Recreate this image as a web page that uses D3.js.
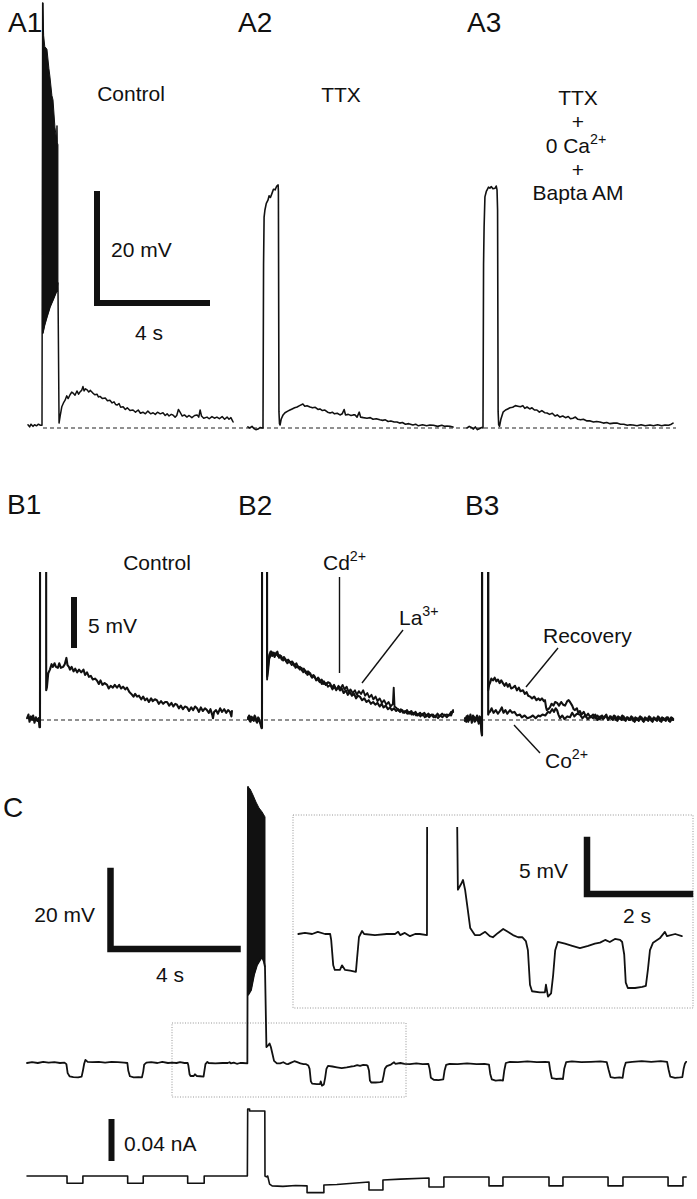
<!DOCTYPE html>
<html><head><meta charset="utf-8">
<script src="https://cdn.jsdelivr.net/npm/d3@7"></script>
<style>html,body{margin:0;padding:0;background:#fff;}svg{display:block;}</style>
</head><body><svg id="fig" width="697" height="1199"></svg>
<script>
// ---------------- DATA (time in s relative to stimulus onset, membrane potential in mV above rest, current in nA) ----------------
const panelLabels = ["A1","A2","A3","B1","B2","B3","C"];
const conditionA = ["Control","TTX"];
const conditionA3 = ["TTX","+","0 Ca","+","Bapta AM"];
const scaleBarsText = ["20 mV","4 s","5 mV","20 mV","4 s","5 mV","2 s","0.04 nA"];
const scaleBarValues = {aV:20, aT:4, bV:5, cV:20, cT:4, insetV:5, insetT:2, cI:0.04};

const a1BurstTop = [[0.03,78],[0.06,72],[0.1,70],[0.18,69.5],[0.25,66],[0.29,64.4],[0.36,61],[0.4,60.2],[0.47,55.2],[0.53,53],[0.545,55.5],[0.56,52.3],[0.58,52]];
const a1BurstBottom = [[0.03,17.4],[0.1,19],[0.18,20.4],[0.29,22.2],[0.4,23.5],[0.545,25.3],[0.58,26.6]];
const a1Trace = [[-0.51,0.6],[-0.45,0.2],[-0.4,0.7],[-0.33,0.3],[-0.27,0.6],[-0.2,0.4],[-0.13,0.7],[-0.06,0.5],[0,0.5],[0.025,78],[0.03,17.4],[0.1,19],[0.18,20.4],[0.29,22.2],[0.4,23.5],[0.545,25.3],[0.58,26.6],
[0.62,0.9],[0.66,2.2],[0.72,3.9],[0.78,4.6],[0.84,5.1],[0.9,5.9],[0.95,5.4],[1.02,6.1],[1.08,6.6],[1.13,6.4],[1.2,6.0],[1.27,6.8],[1.33,6.2],[1.38,6.6],[1.44,6.9],[1.49,7.6],[1.53,6.8],[1.58,7.2],[1.64,7.0],[1.7,6.6],[1.76,6.9],[1.85,6.4],[1.92,6.1],[2.0,6.2],[2.05,5.7],[2.11,5.8],[2.2,5.4],[2.3,5.5],[2.38,5.0],[2.47,5.1],[2.55,4.6],[2.62,4.8],[2.68,4.3],[2.73,4.2],[2.8,4.5],[2.86,3.8],[2.95,3.9],[3.03,3.4],[3.1,3.7],[3.2,3.2],[3.31,3.3],[3.4,2.9],[3.5,3.3],[3.58,2.7],[3.67,2.9],[3.76,2.6],[3.85,3.1],[3.95,2.6],[4.04,2.8],[4.12,2.5],[4.2,2.9],[4.3,2.6],[4.4,2.8],[4.48,2.3],[4.55,2.6],[4.62,2.2],[4.7,2.5],[4.76,2.4],[4.84,2.0],[4.9,2.3],[4.96,3.4],[5.02,2.9],[5.1,2.2],[5.18,2.4],[5.27,2.0],[5.35,2.3],[5.45,1.9],[5.55,2.3],[5.64,2.4],[5.7,2.0],[5.75,3.3],[5.8,2.2],[5.88,1.8],[6.0,2.0],[6.08,1.7],[6.18,2.1],[6.27,1.8],[6.36,2.0],[6.45,1.7],[6.55,2.1],[6.64,1.6],[6.73,2.0],[6.8,1.6],[6.87,1.9],[6.91,1.5],[6.95,1.1]];

const a2Trace = [[-0.55,0.2],[-0.48,0.0],[-0.4,0.3],[-0.33,-0.1],[-0.26,-0.3],[-0.18,-0.2],[-0.1,0.1],[-0.03,0.0],[0,0.0],[0.02,30],[0.04,38.7],[0.07,40],[0.12,41.2],[0.18,41.8],[0.22,42.6],[0.27,42.3],[0.33,43.1],[0.38,43.8],[0.44,43.7],[0.5,44.4],[0.55,44.6],[0.56,43.5],[0.58,3.0],[0.6,0.8],[0.62,0.55],[0.66,1.6],[0.73,2.4],[0.8,2.8],[0.9,3.1],[0.98,3.3],[1.06,3.5],[1.15,3.7],[1.24,3.85],[1.33,4.1],[1.45,4.4],[1.52,4.0],[1.6,4.1],[1.71,3.85],[1.8,3.7],[1.9,3.8],[2.0,3.4],[2.07,3.5],[2.16,3.2],[2.25,3.3],[2.35,2.9],[2.44,2.75],[2.52,2.9],[2.6,2.6],[2.7,2.7],[2.8,2.4],[2.88,2.6],[2.95,3.4],[3.0,2.4],[3.1,2.5],[3.2,2.3],[3.28,2.4],[3.35,2.4],[3.42,2.0],[3.5,2.9],[3.55,2.0],[3.65,1.9],[3.78,1.8],[3.9,1.9],[4.0,1.6],[4.12,1.7],[4.25,1.5],[4.35,1.4],[4.45,1.5],[4.55,1.2],[4.65,1.3],[4.77,1.1],[4.87,1.1],[4.97,0.9],[5.07,1.0],[5.18,0.7],[5.3,0.8],[5.45,0.55],[5.55,0.7],[5.65,0.4],[5.8,0.6],[5.95,0.4],[6.07,0.55],[6.2,0.5],[6.35,0.3],[6.5,0.5],[6.6,0.3],[6.69,0.37],[6.8,0.3],[6.91,0.18]];

const a3Trace = [[-0.58,0.0],[-0.5,0.3],[-0.42,0.1],[-0.35,-0.2],[-0.28,0.2],[-0.2,-0.3],[-0.12,-0.1],[-0.05,0.1],[0,0.0],[0.02,30],[0.04,36.9],[0.07,42.4],[0.12,43.4],[0.15,43.7],[0.2,44.2],[0.25,44.0],[0.3,44.3],[0.36,43.9],[0.44,44.0],[0.48,44.4],[0.51,43.7],[0.53,40],[0.55,3.0],[0.57,0.6],[0.6,0.3],[0.65,1.6],[0.73,2.9],[0.82,3.3],[0.9,3.5],[0.98,3.7],[1.08,3.8],[1.18,4.1],[1.27,4.0],[1.36,3.9],[1.45,4.1],[1.52,3.6],[1.6,3.85],[1.7,3.5],[1.78,3.7],[1.87,3.3],[1.96,3.3],[2.05,2.9],[2.14,3.2],[2.24,2.8],[2.33,2.75],[2.42,2.5],[2.52,2.7],[2.62,2.2],[2.7,2.4],[2.8,2.0],[2.9,2.2],[3.0,1.9],[3.1,2.1],[3.18,1.7],[3.27,1.8],[3.36,2.0],[3.45,1.6],[3.55,1.5],[3.65,1.6],[3.78,1.3],[3.9,1.3],[4.02,1.1],[4.13,1.2],[4.25,1.1],[4.38,0.9],[4.5,1.0],[4.62,0.8],[4.75,0.9],[4.87,0.9],[5.0,0.7],[5.12,0.7],[5.25,0.5],[5.35,0.6],[5.45,0.55],[5.6,0.4],[5.75,0.6],[5.9,0.4],[6.07,0.55],[6.2,0.4],[6.35,0.6],[6.5,0.4],[6.62,0.55],[6.75,0.5],[6.85,0.7],[6.91,0.9]];

const b1Control = [[-0.47,0.2],[-0.42,0.6],[-0.38,-0.2],[-0.33,0.4],[-0.29,0.0],[-0.25,0.5],[-0.2,-0.3],[-0.15,0.3],[-0.1,-0.1],[-0.05,0.2],[-0.02,-0.8],[0,-0.8],[0.005,60],[0.22,60],[0.225,3.3],[0.25,3.6],[0.3,5.2],[0.36,5.6],[0.42,6.2],[0.47,5.9],[0.53,6.3],[0.58,5.9],[0.65,5.8],[0.7,6.3],[0.76,5.8],[0.84,5.9],[0.9,6.2],[0.96,6.9],[1.0,6.1],[1.05,5.9],[1.09,5.6],[1.15,5.9],[1.22,5.4],[1.28,5.7],[1.35,5.3],[1.42,5.6],[1.5,5.3],[1.58,5.6],[1.64,5.0],[1.71,5.3],[1.78,4.8],[1.85,4.9],[1.92,4.5],[2.0,4.6],[2.07,4.4],[2.14,4.0],[2.2,4.4],[2.27,3.9],[2.35,4.1],[2.44,3.9],[2.5,3.5],[2.57,3.8],[2.65,3.6],[2.72,3.9],[2.8,3.6],[2.88,3.9],[2.95,3.5],[3.02,3.7],[3.1,3.4],[3.16,3.6],[3.25,3.1],[3.32,2.9],[3.4,2.6],[3.46,2.9],[3.53,2.6],[3.6,2.7],[3.68,2.3],[3.75,2.6],[3.82,2.2],[3.89,2.4],[3.96,2.0],[4.04,2.4],[4.1,2.1],[4.18,2.3],[4.25,2.2],[4.32,1.8],[4.4,2.1],[4.48,1.8],[4.55,2.0],[4.62,2.0],[4.7,1.6],[4.78,1.9],[4.85,1.5],[4.92,1.8],[4.98,1.7],[5.05,1.3],[5.12,1.6],[5.2,1.2],[5.27,1.5],[5.35,1.4],[5.42,1.0],[5.5,1.4],[5.57,1.1],[5.64,1.5],[5.71,1.3],[5.78,0.9],[5.85,1.4],[5.92,1.0],[6.0,1.3],[6.07,1.1],[6.14,0.8],[6.2,1.2],[6.26,0.6],[6.29,0.2],[6.33,0.9],[6.4,1.1],[6.47,0.7],[6.55,1.3],[6.62,0.9],[6.7,1.2],[6.77,0.8],[6.84,1.1],[6.91,0.9],[6.96,0.4],[6.98,1.0]];

const b2Cd = [[-0.51,0.1],[-0.47,0.5],[-0.42,-0.2],[-0.36,0.3],[-0.3,-0.1],[-0.25,0.4],[-0.18,-0.3],[-0.12,0.2],[-0.06,-0.4],[-0.02,-0.9],[0,-0.9],[0.005,60],[0.18,60],[0.185,4.8],[0.22,5.5],[0.26,6.8],[0.29,7.0],[0.34,7.6],[0.4,7.4],[0.46,7.0],[0.52,7.5],[0.58,7.1],[0.65,7.2],[0.72,6.7],[0.8,7.0],[0.88,6.5],[0.95,6.7],[1.02,6.4],[1.1,6.5],[1.18,6.0],[1.25,6.3],[1.32,5.8],[1.38,5.9],[1.45,5.5],[1.52,5.7],[1.6,5.2],[1.67,5.4],[1.75,5.2],[1.82,4.7],[1.9,4.9],[1.97,4.4],[2.04,4.7],[2.11,4.4],[2.18,4.0],[2.25,4.3],[2.32,3.9],[2.4,4.2],[2.47,4.1],[2.55,3.6],[2.62,3.9],[2.7,3.4],[2.77,3.6],[2.84,3.3],[2.9,3.5],[2.97,3.0],[3.05,3.3],[3.12,2.8],[3.2,3.1],[3.27,2.7],[3.35,2.9],[3.42,2.4],[3.49,2.7],[3.56,2.6],[3.64,2.2],[3.72,2.4],[3.8,2.0],[3.88,2.2],[3.96,1.8],[4.04,2.0],[4.12,1.7],[4.2,1.9],[4.28,1.5],[4.35,1.8],[4.42,1.4],[4.5,1.6],[4.58,1.2],[4.65,1.4],[4.72,1.1],[4.8,1.3],[4.88,1.0],[4.95,1.2],[5.02,0.9],[5.1,1.1],[5.18,0.8],[5.27,1.1],[5.35,0.7],[5.43,1.0],[5.5,0.6],[5.58,0.9],[5.66,0.5],[5.75,0.8],[5.82,0.5],[5.9,0.8],[5.98,0.4],[6.05,0.7],[6.12,0.5],[6.22,0.6],[6.3,0.3],[6.38,0.7],[6.45,0.4],[6.55,0.7],[6.62,0.5],[6.73,0.6],[6.8,0.5],[6.88,0.9],[6.95,0.9]];
const b2La = [[-0.51,0.3],[-0.45,-0.1],[-0.4,0.4],[-0.33,0.0],[-0.27,0.5],[-0.2,-0.2],[-0.14,0.3],[-0.08,-0.2],[-0.02,-0.6],[0,-0.6],[0.005,60],[0.18,60],[0.185,4.5],[0.22,5.9],[0.26,7.2],[0.31,7.6],[0.37,7.1],[0.43,7.5],[0.5,7.2],[0.56,7.6],[0.62,6.9],[0.7,7.1],[0.77,6.6],[0.85,6.8],[0.92,6.3],[1.0,6.5],[1.08,6.1],[1.15,6.3],[1.22,5.8],[1.3,6.0],[1.37,5.6],[1.44,5.8],[1.5,5.3],[1.58,5.5],[1.65,5.0],[1.72,5.2],[1.8,4.8],[1.87,5.0],[1.95,4.6],[2.02,4.5],[2.1,4.2],[2.17,4.5],[2.25,4.0],[2.33,4.1],[2.4,3.7],[2.48,3.9],[2.56,3.4],[2.63,3.7],[2.7,3.3],[2.78,3.8],[2.86,3.5],[2.93,3.9],[3.0,3.4],[3.08,3.7],[3.15,3.1],[3.22,3.4],[3.3,3.0],[3.38,3.3],[3.45,2.8],[3.52,3.2],[3.6,2.9],[3.68,3.3],[3.75,2.7],[3.83,3.0],[3.9,2.5],[3.98,2.8],[4.05,2.3],[4.13,2.6],[4.2,2.1],[4.28,2.4],[4.36,1.9],[4.44,2.2],[4.52,1.7],[4.6,2.0],[4.68,1.5],[4.76,1.8],[4.79,3.6],[4.82,1.5],[4.9,1.3],[4.98,1.0],[5.05,1.2],[5.13,0.8],[5.2,1.0],[5.28,0.7],[5.36,0.9],[5.44,0.6],[5.52,0.8],[5.6,0.5],[5.68,0.7],[5.76,0.4],[5.84,0.7],[5.92,0.3],[6.0,0.6],[6.08,0.3],[6.16,0.6],[6.24,0.3],[6.32,0.5],[6.4,0.2],[6.48,0.5],[6.56,0.3],[6.64,0.6],[6.72,0.3],[6.8,0.6],[6.88,0.5],[6.95,1.1]];

const b3Recovery = [[-0.62,0.2],[-0.57,-0.2],[-0.52,0.5],[-0.47,0.0],[-0.42,0.6],[-0.37,-0.3],[-0.3,0.4],[-0.24,-0.1],[-0.18,0.5],[-0.12,-0.4],[-0.06,0.3],[-0.02,-1.2],[0,-1.7],[0.005,60],[0.22,60],[0.225,3.3],[0.26,3.9],[0.29,4.1],[0.34,4.6],[0.4,4.4],[0.46,4.7],[0.52,4.3],[0.58,4.5],[0.64,4.1],[0.7,4.4],[0.76,4.1],[0.82,3.8],[0.88,4.1],[0.94,3.7],[1.0,4.0],[1.06,3.5],[1.13,3.6],[1.2,3.8],[1.27,3.3],[1.34,3.6],[1.4,3.2],[1.49,3.3],[1.56,2.9],[1.62,3.1],[1.68,2.7],[1.75,2.6],[1.82,2.4],[1.9,2.6],[1.98,2.2],[2.05,2.4],[2.11,2.2],[2.18,2.4],[2.25,2.1],[2.29,2.2],[2.33,1.4],[2.36,1.1],[2.41,1.2],[2.47,1.4],[2.53,1.8],[2.6,1.6],[2.66,2.0],[2.73,1.9],[2.8,1.6],[2.88,2.0],[2.95,1.7],[3.02,1.6],[3.1,2.1],[3.15,2.2],[3.2,2.0],[3.28,1.6],[3.33,1.2],[3.38,1.1],[3.45,1.3],[3.5,0.8],[3.56,1.0],[3.62,0.6],[3.7,0.9],[3.78,0.4],[3.86,0.7],[3.94,0.3],[4.04,0.6],[4.12,0.2],[4.2,0.5],[4.28,0.1],[4.36,0.5],[4.44,0.2],[4.52,0.6],[4.58,0.0],[4.65,0.4],[4.72,0.1],[4.8,0.5],[4.88,0.0],[4.95,0.4],[5.03,0.1],[5.1,0.5],[5.18,0.0],[5.27,0.3],[5.35,0.0],[5.43,0.4],[5.5,-0.1],[5.58,0.3],[5.66,0.0],[5.75,0.4],[5.85,-0.1],[5.93,0.3],[6.0,0.0],[6.08,0.4],[6.16,-0.1],[6.25,0.3],[6.33,0.0],[6.4,0.4],[6.47,-0.1],[6.55,0.3],[6.63,0.0],[6.72,0.3],[6.8,-0.1],[6.88,0.3],[6.95,0.1]];
const b3Co = [[-0.62,-0.1],[-0.56,0.4],[-0.5,-0.2],[-0.45,0.3],[-0.39,0.1],[-0.33,0.5],[-0.27,-0.2],[-0.21,0.3],[-0.15,-0.1],[-0.09,0.4],[-0.04,-0.5],[0,-1.7],[0.005,60],[0.22,60],[0.225,0.6],[0.26,0.9],[0.29,0.9],[0.35,1.3],[0.42,0.8],[0.5,1.1],[0.58,0.7],[0.65,1.0],[0.72,1.4],[0.78,0.8],[0.85,1.1],[0.92,0.7],[1.02,1.1],[1.1,0.8],[1.18,0.9],[1.27,0.5],[1.38,0.6],[1.45,0.3],[1.55,0.5],[1.65,0.2],[1.75,0.3],[1.85,0.5],[1.95,0.2],[2.05,0.5],[2.11,0.4],[2.2,0.6],[2.3,0.5],[2.4,0.9],[2.47,0.8],[2.55,1.2],[2.62,0.9],[2.68,1.3],[2.73,1.1],[2.78,0.6],[2.84,0.2],[2.92,0.5],[3.0,0.1],[3.1,0.4],[3.2,0.3],[3.28,0.8],[3.36,0.4],[3.45,0.7],[3.56,0.6],[3.65,0.2],[3.75,0.5],[3.85,0.1],[3.95,0.4],[4.04,0.2],[4.12,0.6],[4.2,0.0],[4.3,0.4],[4.4,0.1],[4.5,0.5],[4.6,0.1],[4.68,0.4],[4.76,0.0],[4.85,0.4],[4.92,-0.1],[5.0,0.3],[5.08,0.0],[5.15,0.4],[5.22,-0.1],[5.3,0.3],[5.38,0.0],[5.47,0.3],[5.55,-0.2],[5.63,0.2],[5.7,-0.1],[5.8,0.3],[5.88,-0.2],[5.96,0.2],[6.04,-0.1],[6.12,0.3],[6.2,-0.2],[6.28,0.2],[6.36,-0.1],[6.44,0.3],[6.52,-0.2],[6.6,0.2],[6.68,-0.1],[6.76,0.3],[6.84,-0.2],[6.92,0.2],[6.95,0.0]];

// C: voltage (mV) and injected current (nA); t = 0 at current step onset
const cBurstTop = [[0,70.8],[0.063,70.3],[0.157,68.7],[0.252,66.9],[0.346,65.4],[0.441,64.4],[0.535,63.1]];
const cBurstBottom = [[0,17.4],[0.094,18.7],[0.189,22.6],[0.283,25.1],[0.378,26.4],[0.441,27.2],[0.504,25.9],[0.535,24.6]];
const cVoltage = [[-6.96,0.0],[-6.8,0.2],[-6.62,0.0],[-6.45,0.3],[-6.28,0.1],[-6.1,0.2],[-5.92,0.0],[-5.78,0.1],[-5.72,-0.3],[-5.68,-2.6],[-5.62,-3.4],[-5.5,-3.6],[-5.35,-3.7],[-5.24,-3.5],[-5.2,-2.0],[-5.16,-0.2],[-5.12,0.8],[-5.05,0.3],[-4.9,0.2],[-4.7,0.3],[-4.5,0.1],[-4.3,0.3],[-4.1,0.2],[-3.9,0.1],[-3.8,0.0],[-3.77,-2.0],[-3.72,-3.4],[-3.6,-3.7],[-3.45,-3.6],[-3.34,-3.7],[-3.3,-2.2],[-3.27,-0.4],[-3.2,0.1],[-3.05,0.2],[-2.85,0.0],[-2.7,0.3],[-2.52,0.0],[-2.39,0.1],[-2.25,0.0],[-2.14,0.2],[-2.0,0.0],[-1.9,0.0],[-1.88,-0.55],[-1.84,-2.9],[-1.81,-3.33],[-1.71,-3.33],[-1.67,-2.9],[-1.61,-3.33],[-1.51,-3.4],[-1.40,-3.5],[-1.38,-2.4],[-1.34,-0.28],[-1.28,0.28],[-1.24,0.0],[-1.03,-0.1],[-0.8,0.0],[-0.64,0.0],[-0.58,0.2],[-0.54,-0.1],[-0.45,0.1],[-0.35,-0.2],[-0.25,0.0],[-0.16,0.0],[-0.02,-0.1],
[0,70.8],[0.001,17.4],[0.094,18.7],[0.189,22.6],[0.283,25.1],[0.378,26.4],[0.441,27.2],[0.504,25.9],[0.535,24.6],
[0.58,4.1],[0.64,4.6],[0.68,5.0],[0.72,4.1],[0.76,2.7],[0.82,0.55],[0.91,-0.1],[1.01,-0.1],[1.11,0.2],[1.2,-0.2],[1.26,-0.3],[1.36,0.1],[1.46,0.46],[1.55,0.2],[1.65,-0.1],[1.75,-0.3],[1.83,-0.3],[1.9,-0.65],[1.94,-1.5],[1.98,-4.7],[2.02,-5.3],[2.17,-5.4],[2.27,-5.4],[2.29,-4.7],[2.33,-5.8],[2.39,-5.5],[2.43,-3.8],[2.47,-1.5],[2.52,-0.74],[2.66,-0.9],[2.8,-1.1],[2.95,-1.3],[3.11,-1.1],[3.24,-0.9],[3.34,-0.8],[3.44,-0.55],[3.53,-0.74],[3.63,-0.46],[3.73,-0.55],[3.77,-0.74],[3.81,-1.9],[3.84,-4.5],[3.88,-5.0],[4.02,-5.0],[4.16,-4.9],[4.23,-4.8],[4.27,-3.3],[4.31,-1.5],[4.37,-0.8],[4.5,-0.4],[4.6,0.2],[4.64,-0.2],[4.8,0.0],[4.93,-0.2],
[5.1,-0.3],[5.3,-0.1],[5.5,-0.3],[5.68,-0.2],[5.72,-1.5],[5.76,-3.8],[5.85,-4.3],[6.0,-4.4],[6.15,-4.2],[6.19,-2.0],[6.24,-0.5],[6.35,-0.2],[6.6,-0.3],[6.9,-0.1],[7.2,-0.3],[7.45,-0.2],[7.59,-0.4],[7.63,-2.8],[7.68,-4.2],[7.8,-4.5],[7.95,-4.4],[8.03,-4.5],[8.07,-2.0],[8.12,0.0],[8.25,0.3],[8.5,0.2],[8.8,0.4],[9.1,0.2],[9.35,0.3],[9.48,0.2],[9.52,-2.0],[9.57,-3.9],[9.7,-4.1],[9.85,-4.0],[9.92,-4.1],[9.96,-1.5],[10.02,0.2],[10.2,0.4],[10.5,0.2],[10.8,0.3],[11.1,0.4],[11.3,0.2],[11.36,-1.8],[11.42,-3.6],[11.55,-3.8],[11.7,-3.7],[11.8,-3.8],[11.84,-1.5],[11.9,0.1],[12.1,0.3],[12.4,0.5],[12.7,0.3],[13.0,0.5],[13.2,0.3],[13.25,-1.8],[13.3,-3.5],[13.45,-3.8],[13.6,-3.7],[13.68,-3.6],[13.72,-1.5],[13.76,-0.2],[13.8,0.3]];
const cCurrent = [[-6.96,0],[-5.70,0],[-5.70,-0.008],[-5.20,-0.008],[-5.20,0],[-3.79,0],[-3.79,-0.008],[-3.30,-0.008],[-3.30,0],[-1.90,0],[-1.90,-0.008],[-1.38,-0.008],[-1.38,0],[-0.02,0],[-0.01,0.0744],[0.05,0.0744],[0.05,0.0722],[0.53,0.0722],[0.535,0.0],[0.58,-0.001],[0.62,0.0],[0.68,-0.009],[0.76,-0.011],[1.1,-0.0115],[1.5,-0.0105],[1.86,-0.011],[1.86,-0.0185],[2.39,-0.0185],[2.39,-0.010],[2.8,-0.0095],[3.3,-0.008],[3.81,-0.0067],[3.81,-0.0156],[4.25,-0.0156],[4.25,-0.0044],[4.8,-0.0035],[5.70,-0.0022],[5.70,-0.0122],[6.17,-0.0122],[6.17,-0.0011],[7.59,-0.0011],[7.59,-0.011],[8.03,-0.011],[8.03,-0.0011],[9.48,-0.0011],[9.48,-0.011],[9.92,-0.011],[9.92,-0.0011],[11.34,-0.0011],[11.34,-0.011],[11.81,-0.011],[11.81,-0.0011],[13.23,-0.0011],[13.23,-0.011],[13.70,-0.011],[13.70,-0.0011],[13.8,-0.0011]];
const insetWindow = [-2.52, 4.93]; // seconds shown in the expanded inset

// ---------------- DRAWING ----------------
const FONT = "'Liberation Sans', Arial, Helvetica, sans-serif";
const svg = d3.select("#fig");
const lin = (origin, perUnit) => d3.scaleLinear().domain([0, 1]).range([origin, origin + perUnit]);

const xA = [lin(42, 27.5), lin(263, 27.5), lin(483, 27.5)];
const yA = lin(428, -5.45);
const xB = [lin(40, 27.5), lin(262, 27.5), lin(482, 27.5)];
const yB = lin(720, -9);
const xC = lin(248, 31.75);
const yC = lin(1063, -3.9);
const xIn = lin(428, 51.5);
const yIn = lin(934, -10.8);
const yI = lin(1176, -900);

function trace(g, data, xs, ys, w) {
  g.append("path")
    .attr("d", d3.line().x(d => xs(d[0])).y(d => ys(d[1]))(data))
    .attr("fill", "none").attr("stroke", "#111").attr("stroke-width", w)
    .attr("stroke-linejoin", "round").attr("stroke-linecap", "round");
}
function envelope(g, top, bottom, xs, ys) {
  const pts = top.map(d => [xs(d[0]), ys(d[1])]).concat(bottom.slice().reverse().map(d => [xs(d[0]), ys(d[1])]));
  g.append("path").attr("d", "M" + pts.map(p => p.join(",")).join("L") + "Z")
    .attr("fill", "#111").attr("stroke", "#111").attr("stroke-width", 1);
}
function txt(x, y, s, size, anchor) {
  return svg.append("text").attr("x", x).attr("y", y).attr("font-family", FONT)
    .attr("font-size", size).attr("text-anchor", anchor || "start").attr("fill", "#111").text(s);
}
function supText(x, y, base, sup, size, anchor) {
  const t = svg.append("text").attr("x", x).attr("y", y).attr("font-family", FONT)
    .attr("font-size", size).attr("text-anchor", anchor || "start").attr("fill", "#111");
  t.append("tspan").text(base);
  t.append("tspan").attr("font-size", size * 0.68).attr("dy", -size * 0.42).text(sup);
  return t;
}
function bar(pathD, w) {
  svg.append("path").attr("d", pathD).attr("fill", "none").attr("stroke", "#111")
    .attr("stroke-width", w || 6).attr("stroke-linejoin", "miter").attr("stroke-linecap", "square");
}
function seg(x1, y1, x2, y2, w) {
  svg.append("line").attr("x1", x1).attr("y1", y1).attr("x2", x2).attr("y2", y2)
    .attr("stroke", "#111").attr("stroke-width", w || 1.4);
}
function dashed(x1, x2, y) {
  svg.append("line").attr("x1", x1).attr("x2", x2).attr("y1", y).attr("y2", y)
    .attr("stroke", "#222").attr("stroke-width", 1.1).attr("stroke-dasharray", "4,3");
}
function dottedRect(x, y, w, h) {
  svg.append("rect").attr("x", x).attr("y", y).attr("width", w).attr("height", h)
    .attr("fill", "none").attr("stroke", "#8a8a8a").attr("stroke-width", 0.9).attr("stroke-dasharray", "1,1.6");
}

const labelPos = [[8,32],[238,32],[467,32],[7,514],[238,515],[465,515],[3,817]];
panelLabels.forEach((l, i) => txt(labelPos[i][0], labelPos[i][1], l, 28));

// ---- A ----
dashed(43, 676, yA(0));
const gA = svg.append("g");
envelope(gA, a1BurstTop, a1BurstBottom, xA[0], yA);
trace(gA, a1Trace, xA[0], yA, 1.5);
trace(gA, a2Trace, xA[1], yA, 1.6);
trace(gA, a3Trace, xA[2], yA, 1.6);
txt(131, 101, conditionA[0], 21, "middle");
txt(341, 102, conditionA[1], 21, "middle");
[105, 129, 153, 177, 200].forEach((y, i) => {
  if (i === 2) supText(576, y, "0 Ca", "2+", 21, "middle");
  else txt(578, y, conditionA3[i], 21, "middle");
});
{ const cx = 97, cy = 303;
  bar(`M${cx},${cy - (yA(0) - yA(scaleBarValues.aV))}L${cx},${cy}L${cx + (xA[0](scaleBarValues.aT) - xA[0](0))},${cy}`, 6);
  txt(111, 257, scaleBarsText[0], 21);
  txt(149, 340, scaleBarsText[1], 21, "middle"); }

// ---- B ----
dashed(40, 675, yB(0));
svg.append("clipPath").attr("id", "clipB").append("rect").attr("x", 0).attr("y", 572).attr("width", 697).attr("height", 230);
const gB = svg.append("g").attr("clip-path", "url(#clipB)");
trace(gB, b1Control, xB[0], yB, 2.1);
trace(gB, b2Cd, xB[1], yB, 2.1);
trace(gB, b2La, xB[1], yB, 1.9);
trace(gB, b3Co, xB[2], yB, 2.1);
trace(gB, b3Recovery, xB[2], yB, 2.1);
txt(157, 570, conditionA[0], 21, "middle");
{ const bx = 74, by = 645; bar(`M${bx},${by}L${bx},${by - (yB(0) - yB(scaleBarValues.bV))}`, 6);
  txt(88, 633, scaleBarsText[2], 21); }
supText(323, 570, "Cd", "2+", 21); seg(339.5, 577, 339.5, 673, 1.4);
supText(399, 625, "La", "3+", 21); seg(403, 630, 362, 683, 1.4);
txt(543, 643, "Recovery", 21); seg(558, 648, 526, 687, 1.4);
supText(545, 768, "Co", "2+", 21); seg(514, 725, 540, 753, 1.4);

// ---- C ----
dottedRect(293, 815, 400, 193);
dottedRect(172, 1023, 234, 74);
const gC = svg.append("g");
envelope(gC, cBurstTop, cBurstBottom, xC, yC);
trace(gC, cVoltage, xC, yC, 1.8);
trace(gC, cCurrent, xC, yI, 1.6);
svg.append("clipPath").attr("id", "clipIn").append("rect")
  .attr("x", xIn(insetWindow[0]) - 1).attr("y", 827).attr("width", xIn(insetWindow[1]) - xIn(insetWindow[0]) + 2).attr("height", 178);
const gIn = svg.append("g").attr("clip-path", "url(#clipIn)");
trace(gIn, cVoltage.filter(d => d[0] >= insetWindow[0] && d[0] <= insetWindow[1]), xIn, yIn, 1.8);
{ const cx = 110.5, cy = 949;
  bar(`M${cx},${cy - (yC(0) - yC(scaleBarValues.cV))}L${cx},${cy}L${cx + (xC(scaleBarValues.cT) - xC(0))},${cy}`, 6.5);
  txt(95, 922, scaleBarsText[3], 21, "end");
  txt(170, 982, scaleBarsText[4], 21, "middle"); }
{ const cx = 587, cy = 894;
  bar(`M${cx},${cy - (yIn(0) - yIn(scaleBarValues.insetV))}L${cx},${cy}L${cx + (xIn(scaleBarValues.insetT) - xIn(0))},${cy}`, 6.5);
  txt(568, 878, scaleBarsText[5], 21, "end");
  txt(637, 923, scaleBarsText[6], 21, "middle"); }
{ const bx = 111.5, by = 1158;
  bar(`M${bx},${by}L${bx},${by - (yI(0) - yI(scaleBarValues.cI))}`, 6);
  txt(124, 1151, scaleBarsText[7], 21); }
</script></body></html>
